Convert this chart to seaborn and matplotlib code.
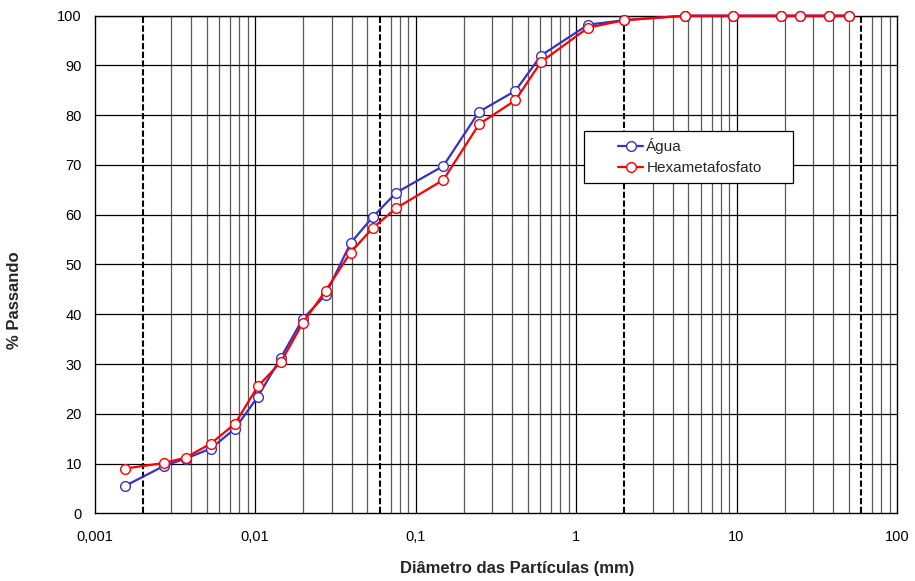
import matplotlib
matplotlib.use("Agg")
import matplotlib.pyplot as plt
import seaborn as sns
import pandas as pd
from matplotlib.ticker import FixedLocator, FixedFormatter, NullFormatter
from matplotlib.lines import Line2D
from matplotlib.patches import Rectangle

# Data
diametro = [0.00155, 0.0027, 0.0037, 0.0053, 0.0075, 0.0104, 0.0145, 0.0198, 0.0275,
            0.0394, 0.054, 0.0756, 0.149, 0.249, 0.419, 0.605, 1.19, 2.0, 4.8, 9.5,
            19.0, 25.0, 37.9, 50.2]
agua = [5.5, 9.5, 11.0, 13.0, 17.0, 23.4, 31.3, 39.0, 43.9,
        54.3, 59.5, 64.4, 69.8, 80.7, 84.9, 92.0, 98.2, 99.1, 100, 100,
        100, 100, 100, 100]
hexa = [9.0, 10.1, 11.2, 14.0, 18.0, 25.5, 30.4, 38.2, 44.7,
        52.4, 57.3, 61.3, 67.0, 78.2, 83.0, 90.7, 97.6, 99.1, 100, 100,
        100, 100, 100, 100]
serie_nomes = ["Água", "Hexametafosfato"]
x_ticks = [0.001, 0.01, 0.1, 1, 10, 100]
x_tick_labels = ["0,001", "0,01", "0,1", "1", "10", "100"]
y_ticks = list(range(0, 101, 10))
limites = [0.002, 0.06, 2, 60]

df = pd.DataFrame({
    "d": diametro * 2,
    "p": agua + hexa,
    "serie": [serie_nomes[0]] * len(diametro) + [serie_nomes[1]] * len(diametro),
})

sns.set_style("white")
plt.rcParams["font.family"] = ["Liberation Sans", "DejaVu Sans"]

W, H = 915, 581
L, R, T, B = 94.5, 897, 15.7, 513.3
fig = plt.figure(figsize=(W / 100, H / 100), dpi=100)
ax = fig.add_axes([L / W, (H - B) / H, (R - L) / W, (B - T) / H])
ax.set_xscale("log")
ax.set_xlim(0.001, 100)
ax.set_ylim(0, 100)

def px_to_axes(x, y):
    return (x - L) / (R - L), (B - y) / (B - T)

# grid: minor verticals
for dec in [0.001, 0.01, 0.1, 1, 10]:
    for k in range(2, 10):
        v = dec * k
        if any(abs(v - l) / l < 1e-6 for l in limites):
            continue
        ax.axvline(v, color="#5a5a5a", lw=0.9, zorder=0.5)
for v in x_ticks[1:-1]:
    ax.axvline(v, color="black", lw=0.9, zorder=0.6)
for y in y_ticks[1:]:
    ax.axhline(y, color="black", lw=0.9, zorder=0.6)
for v in limites:
    ax.axvline(v, color="black", lw=1.5, ls=(0, (3, 1.2)), zorder=0.7)

palette = {serie_nomes[0]: "#3333CC", serie_nomes[1]: "#FF0000"}
sns.lineplot(data=df, x="d", y="p", hue="serie", palette=palette, ax=ax,
             marker="o", markersize=7, markerfacecolor="white",
             markeredgewidth=1.0, lw=1.6, legend=False, sort=True,
             estimator=None, zorder=3)
for line in ax.get_lines()[-2:]:
    line.set_markeredgecolor(line.get_color())
    line.set_clip_on(False)

ax.xaxis.set_major_locator(FixedLocator(x_ticks))
ax.xaxis.set_major_formatter(FixedFormatter(x_tick_labels))
ax.xaxis.set_minor_formatter(NullFormatter())
ax.set_yticks(y_ticks)
ax.tick_params(axis="both", labelsize=10.5, direction="out", width=0.8,
               colors="black")
ax.tick_params(axis="y", length=4.5, pad=4.5)
ax.tick_params(axis="x", which="major", length=3, pad=9)
ax.tick_params(axis="x", which="minor", length=0)
for s in ax.spines.values():
    s.set_color("black")
    s.set_linewidth(1.0)

ax.set_xlabel("Diâmetro das Partículas (mm)", fontsize=12, fontweight="bold")
ax.xaxis.set_label_coords(*px_to_axes(517, 568))
ax.xaxis.label.set_va("center")
ax.set_ylabel("% Passando", fontsize=12, fontweight="bold")
ax.yaxis.set_label_coords(*px_to_axes(15, 300))
ax.yaxis.label.set_va("center")

# legend box drawn as in the reference
x0, y0 = px_to_axes(584, 183)
x1, y1 = px_to_axes(793, 131)
ax.add_patch(Rectangle((x0, y0), x1 - x0, y1 - y0, transform=ax.transAxes,
                       facecolor="white", edgecolor="black", lw=0.9,
                       zorder=4, clip_on=False))
handles = [Line2D([], [], color=palette[n], marker="o", markersize=7,
                  markerfacecolor="white", markeredgecolor=palette[n], lw=1.6)
           for n in serie_nomes]
leg = ax.legend(handles, serie_nomes, loc="center left",
                bbox_to_anchor=px_to_axes(618, 156.5),
                fontsize=11, frameon=False, handlelength=1.65,
                handletextpad=0.2, borderpad=0, labelspacing=0.45,
                borderaxespad=0)
leg.set_zorder(5)

fig.savefig("out.png", dpi=100)
